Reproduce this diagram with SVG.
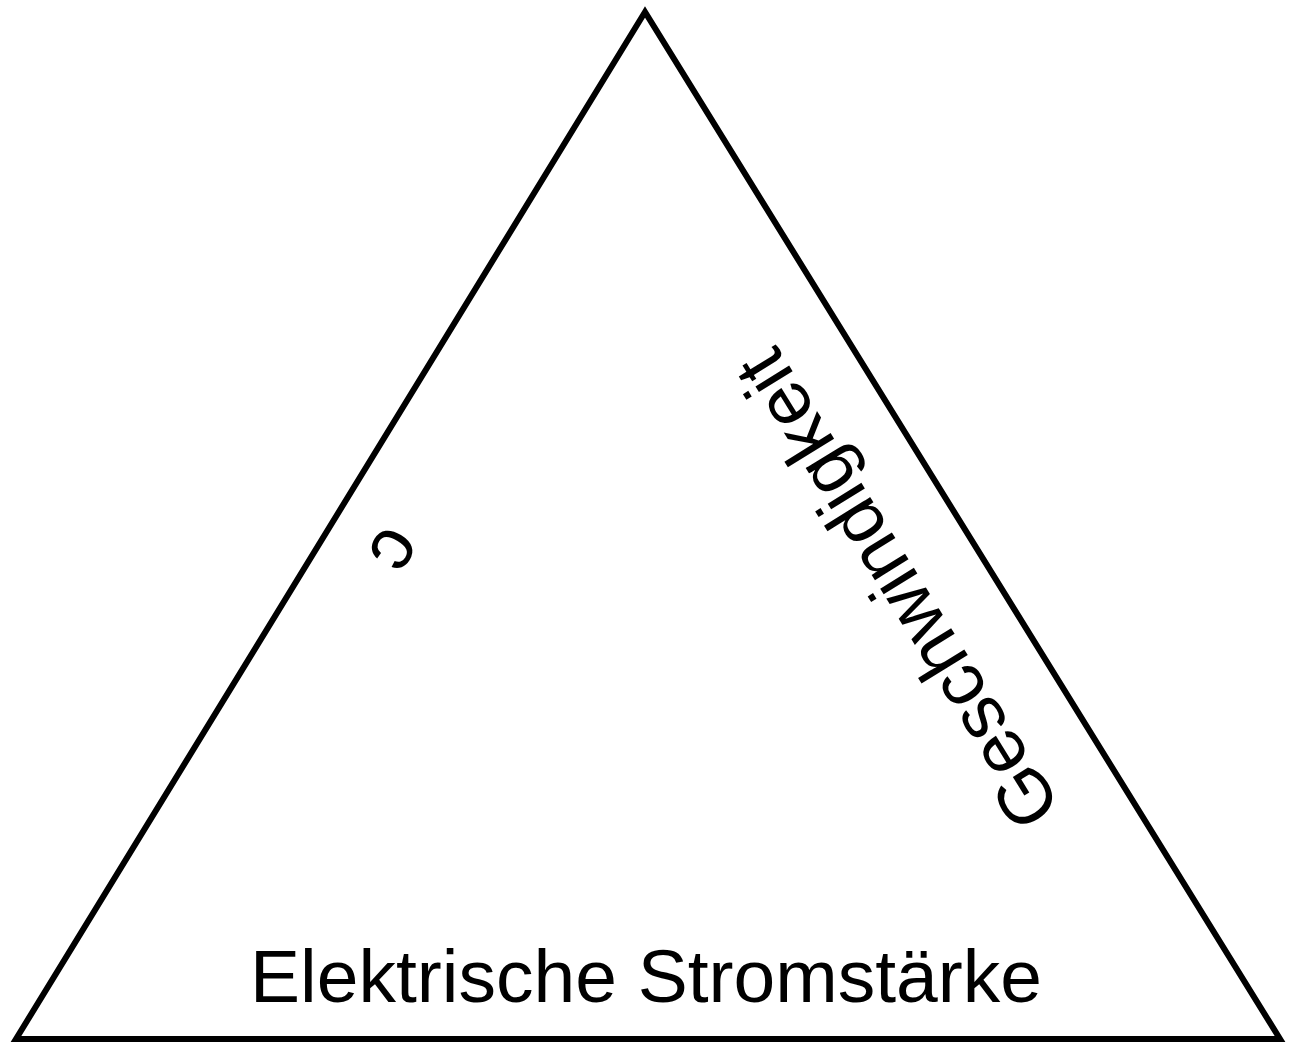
<svg xmlns="http://www.w3.org/2000/svg" width="1293" height="1043" viewBox="0 0 1293 1043">
<style>
.lbl{font-family:"Liberation Sans",Arial,sans-serif;font-size:75px;fill:#000;text-anchor:middle}
.tri{fill:#fff;stroke:#000;stroke-width:6;stroke-linejoin:miter;stroke-miterlimit:10}
</style>
<rect width="1293" height="1043" fill="#fff"/>
<g id="triangle">
<polygon class="tri" points="645,12 16,1039 1280,1039"/>
</g>
<g id="connectors"/>
<g id="label-bottom">
<text class="lbl" x="646" y="1002">Elektrische Stromstärke</text>
</g>
<g id="label-right">
<text class="lbl" x="919" y="576" transform="rotate(-121.7 919 576)">Geschwindigkeit</text>
</g>
<g id="label-left">
<text class="lbl" x="376" y="538" transform="rotate(121.6 376 538)">c</text>
</g>
</svg>
